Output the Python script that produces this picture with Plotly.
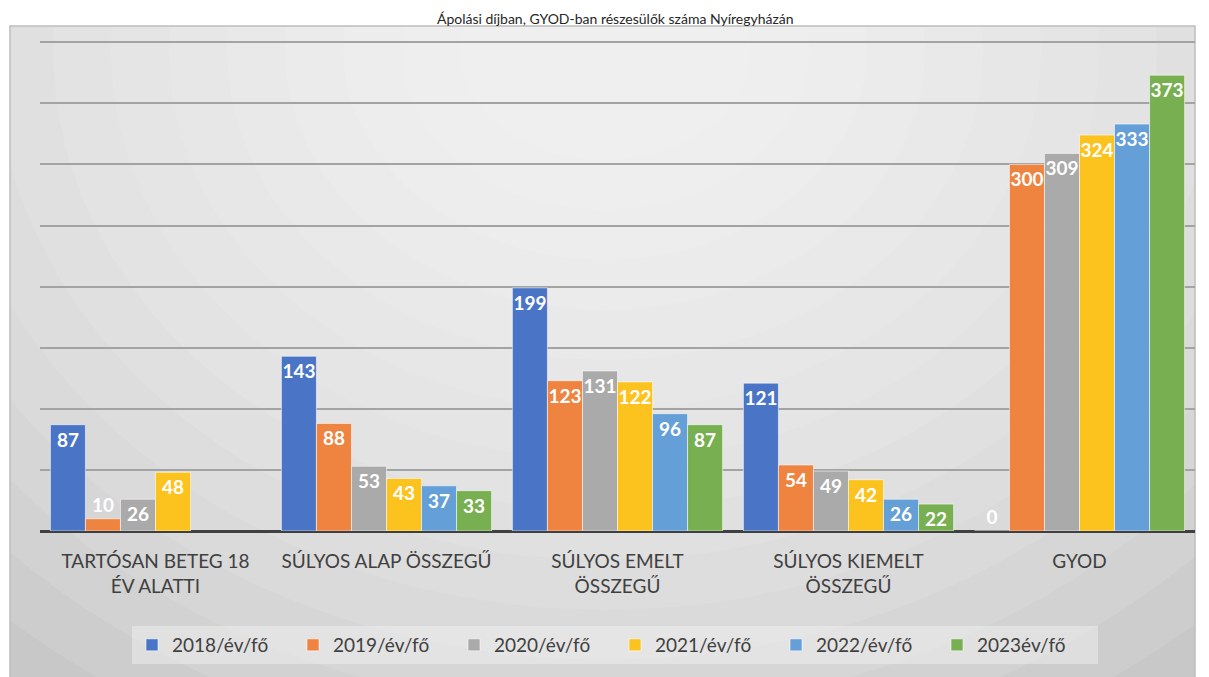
import plotly.graph_objects as go

# ── Data ──────────────────────────────────────────────────────────────────────
categories = [
    "TARTÓSAN BETEG 18<br>ÉV ALATTI",
    "SÚLYOS ALAP ÖSSZEGŰ",
    "SÚLYOS EMELT<br>ÖSSZEGŰ",
    "SÚLYOS KIEMELT<br>ÖSSZEGŰ",
    "GYOD",
]
series_names = ["2018/év/fő", "2019/év/fő", "2020/év/fő", "2021/év/fő", "2022/év/fő", "2023év/fő"]
v2018 = [87, 143, 199, 121, 0]
v2019 = [10, 88, 123, 54, 300]
v2020 = [26, 53, 131, 49, 309]
v2021 = [48, 43, 122, 42, 324]
v2022 = [None, 37, 96, 26, 333]
v2023 = [None, 33, 87, 22, 373]
series_values = [v2018, v2019, v2020, v2021, v2022, v2023]

TITLE = "Ápolási díjban, GYOD-ban részesülők száma Nyíregyházán"
COLOURS = ["#4a75c6", "#ee8440", "#aaaaaa", "#fcc31e", "#659fd7", "#78b051"]
FONT = "Lato"

fig = go.Figure()

for name, vals, col in zip(series_names, series_values, COLOURS):
    pos = ["outside" if (v is not None and v < 20) else "inside" for v in vals]
    fig.add_trace(go.Bar(
        x=categories, y=vals, name=name,
        marker=dict(color=col, line=dict(color="rgba(255,255,255,0.55)", width=1)),
        text=[("" if v is None else str(v)) for v in vals],
        textposition=pos, insidetextanchor="end", constraintext="none",
        textangle=0, cliponaxis=False,
        textfont=dict(family=FONT, size=19, color="white", weight="bold"),
        hoverinfo="skip",
    ))

# ── Geometry (page body adds an 8px margin, so compensate) ───────────────────
W, H = 1209, 677
OFF = 8
PLOT_L, PLOT_R, PLOT_T, PLOT_B = 40, 1195, 41, 531     # target page pixels
BOX_TOP = 26
L, R = PLOT_L - OFF, W - (PLOT_R - OFF)
T, B = PLOT_T - OFF, H - (PLOT_B - OFF)
pw, ph = W - L - R, H - T - B


def px_x(x):
    return (x - PLOT_L) / pw


def px_y(y):
    return (PLOT_B - y) / ph


shapes = [dict(type="rect", xref="paper", yref="paper", layer="below",
               x0=px_x(10), x1=px_x(1195), y0=px_y(690), y1=px_y(BOX_TOP),
               fillcolor="#c8c8c8", line=dict(width=0))]
n_rings = 14
for i in range(n_rings):
    rx = 900 - i * 58
    ry = 760 - i * 50
    shapes.append(dict(type="circle", xref="paper", yref="paper", layer="below",
                       x0=px_x(605 - rx), x1=px_x(605 + rx),
                       y0=px_y(50 + ry), y1=px_y(50 - ry),
                       fillcolor="white", opacity=0.1, line=dict(width=0)))
# cover spill-over outside the box
shapes += [
    dict(type="rect", xref="paper", yref="paper", layer="below",
         x0=px_x(-50), x1=px_x(1300), y0=px_y(BOX_TOP), y1=px_y(-50),
         fillcolor="white", line=dict(width=0)),
    dict(type="rect", xref="paper", yref="paper", layer="below",
         x0=px_x(-50), x1=px_x(10), y0=px_y(700), y1=px_y(-50),
         fillcolor="white", line=dict(width=0)),
    dict(type="rect", xref="paper", yref="paper", layer="below",
         x0=px_x(1195), x1=px_x(1300), y0=px_y(700), y1=px_y(-50),
         fillcolor="white", line=dict(width=0)),
    dict(type="rect", xref="paper", yref="paper", layer="below",
         x0=px_x(10), x1=px_x(1195), y0=px_y(690), y1=px_y(BOX_TOP),
         fillcolor="rgba(0,0,0,0)", line=dict(color="#bdbdbd", width=1.5)),
]

fig.update_layout(
    width=W, height=H,
    margin=dict(l=L, r=R, t=T, b=B, autoexpand=False),
    paper_bgcolor="white", plot_bgcolor="rgba(0,0,0,0)",
    barmode="group", bargap=0.09, bargroupgap=0,
    shapes=shapes,
    font=dict(family=FONT, color="#404040"),
    annotations=[dict(
        text=TITLE, xref="paper", yref="paper",
        x=px_x(615), y=px_y(9), xanchor="center", yanchor="top",
        showarrow=False, borderpad=0,
        font=dict(family=FONT, size=14, color="#262626"),
    )],
    legend=dict(
        orientation="h", x=px_x(615), y=px_y(645),
        xanchor="center", yanchor="middle",
        bgcolor="rgba(240,240,240,0.5)",
        font=dict(family=FONT, size=19, color="#404040"),
        entrywidth=116, entrywidthmode="pixels", itemwidth=30,
    ),
    xaxis=dict(
        showgrid=False, showline=False, ticks="",
        ticklabelstandoff=17,
        tickfont=dict(family=FONT, size=19, color="#404040"),
    ),
    yaxis=dict(
        range=[0, 401], dtick=50, showticklabels=False,
        gridcolor="#a3a3a3", gridwidth=1.5,
        zeroline=True, zerolinecolor="#404040", zerolinewidth=3,
    ),
)

fig.write_html("out.html")
